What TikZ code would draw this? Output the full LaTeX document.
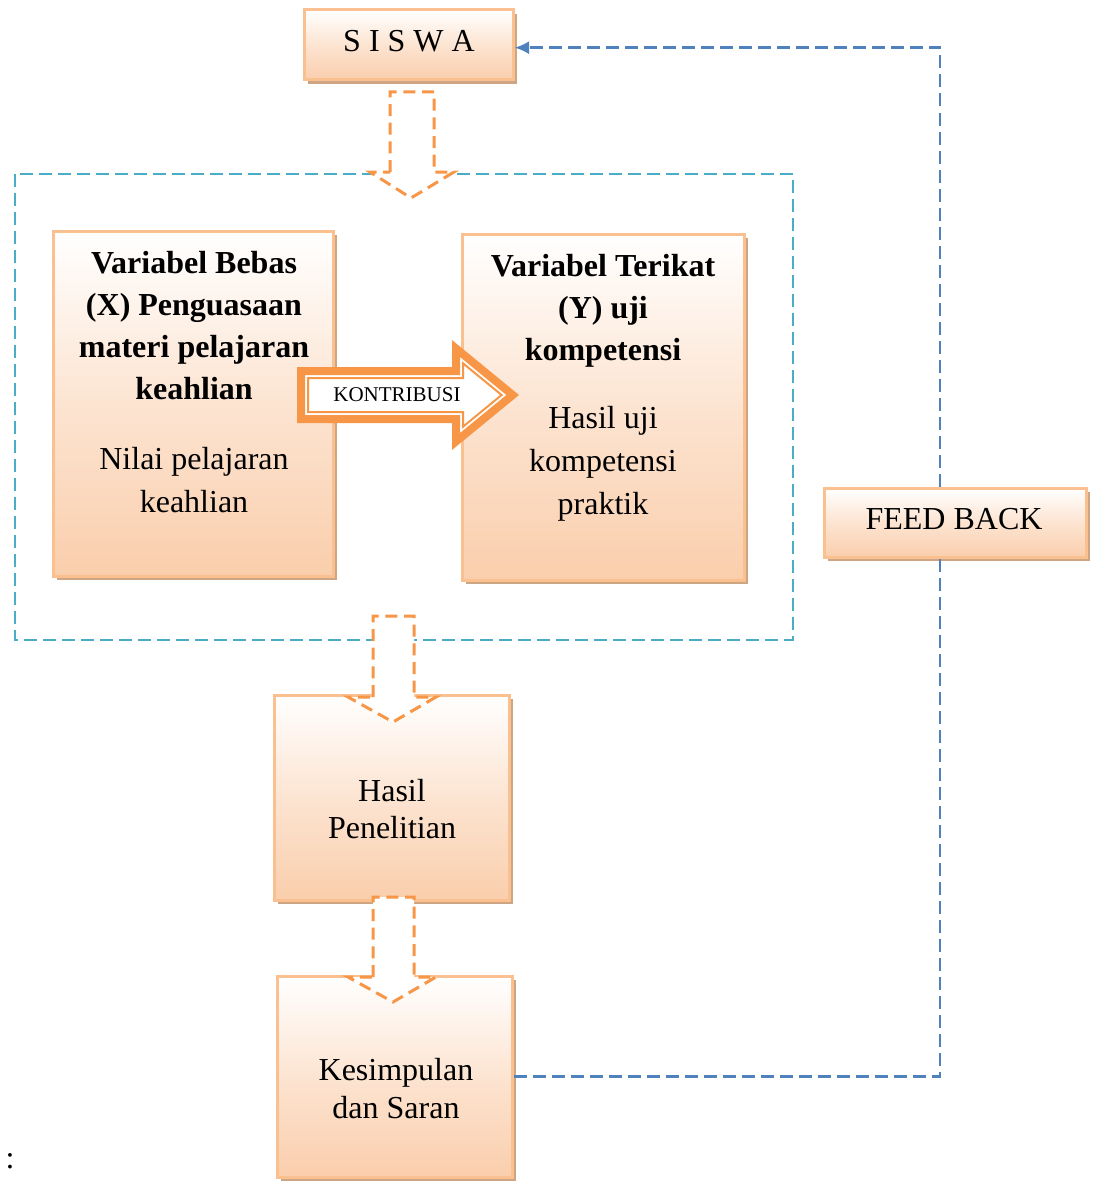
\documentclass[tikz,border=0pt]{standalone}
\usepackage{fontspec}
\setmainfont{Liberation Serif}
\usetikzlibrary{arrows.meta,shadows}
\definecolor{boxborder}{RGB}{250,192,144}
\definecolor{boxbottom}{RGB}{250,206,172}
\definecolor{boxshadow}{RGB}{205,165,130}
\definecolor{acc}{RGB}{247,150,70}
\definecolor{cyanline}{RGB}{75,172,198}
\definecolor{blueline}{RGB}{79,129,189}
\begin{document}
\begin{tikzpicture}[x=0.75pt,y=-0.75pt,
  box/.style={draw=boxborder, line width=2.25pt, top color=white, bottom color=boxbottom,
    middle color=boxbottom!55, inner sep=0pt, drop shadow={shadow xshift=3pt, shadow yshift=-3pt, fill=boxshadow, opacity=1}},
  txt/.style={inner sep=0pt, align=center, font=\fontsize{24}{31.5}\selectfont},
  oarrow/.style={draw=acc, line width=2.25pt, dash pattern=on 9pt off 5pt, fill=white, line join=miter},
  fbline/.style={draw=blueline, line width=2.2pt, dash pattern=on 9.75pt off 4.5pt},
  frame/.style={draw=cyanline, line width=2.1pt, dash pattern=on 9.75pt off 4.5pt}]
\useasboundingbox (0,0) rectangle (1094,1181);

% dashed cyan frame
\draw[frame] (15,174) rectangle (793,640);

% boxes
\node[box, minimum width=156.75pt, minimum height=52.5pt] (siswa) at (408.5,45) {};
\node[box, minimum width=210pt, minimum height=258.75pt] (bebas) at (193,403.5) {};
\node[box, minimum width=211.5pt, minimum height=259.5pt] (terikat) at (603,407) {};
\node[box, minimum width=196.5pt, minimum height=51.75pt] (fb) at (955,522.5) {};
\node[box, minimum width=176.25pt, minimum height=153.75pt] (hasil) at (391.5,797.5) {};
\node[box, minimum width=176.25pt, minimum height=150.75pt] (kes) at (394.5,1076.5) {};

% texts
\node[txt] (tsiswa) at (409,41) {S I S W A};
\node[txt, font=\fontsize{24}{31.5}\selectfont\bfseries] (tbebas1) at (194,326) {Variabel Bebas\\(X) Penguasaan\\materi pelajaran\\keahlian};
\node[txt, font=\fontsize{24}{32.25}\selectfont] (tbebas2) at (194,480.5) {Nilai pelajaran\\keahlian};
\node[txt, font=\fontsize{24}{31.5}\selectfont\bfseries] (tterikat1) at (603,311) {Variabel Terikat\\(Y) uji\\kompetensi};
\node[txt, font=\fontsize{24}{32.25}\selectfont] (tterikat2) at (603,464) {Hasil uji\\kompetensi\\praktik};
\node[txt] (tfb) at (954,519) {FEED BACK};
\node[txt, font=\fontsize{24}{27.75}\selectfont] (thasil) at (392,809.5) {Hasil\\Penelitian};
\node[txt, font=\fontsize{24}{28.5}\selectfont] (tkes) at (396,1089) {Kesimpulan\\dan Saran};
\node[txt] (colon) at (10,1161) {:};

% dashed orange block arrows
\draw[oarrow] (390,172) -- (390,92) -- (434,92) -- (434,172) -- (454,172) -- (411,198) -- (370,172) -- cycle;
\draw[oarrow] (373,697) -- (373,616) -- (414,616) -- (414,697) -- (436,697) -- (393,722) -- (348,697) -- cycle;
\draw[oarrow] (373,977) -- (373,897) -- (414,897) -- (414,977) -- (436,977) -- (393,1002) -- (348,977) -- cycle;

% KONTRIBUSI arrow
\draw[acc, line width=6pt, line join=miter, fill=white] (301,371) -- (456,371) -- (456,348.5) -- (512.7,395) -- (456,441.5) -- (456,419) -- (301,419) -- cycle;
\draw[acc, line width=1.5pt, line join=miter] (308,378) -- (463,378) -- (463,363.3) -- (501.6,395) -- (463,426.7) -- (463,412) -- (308,412) -- cycle;
\node[inner sep=0pt, font=\fontsize{15.75}{18}\selectfont] (kon) at (397,395) {KONTRIBUSI};

% feedback loop
\draw[fbline] (kes.east) -| ([xshift=-11.25pt]fb.south);
\draw[fbline, -{Latex[length=11pt,width=10pt]}] ([xshift=-11.25pt]fb.north) |- ([yshift=-2pt]siswa.east);
\end{tikzpicture}
\end{document}
